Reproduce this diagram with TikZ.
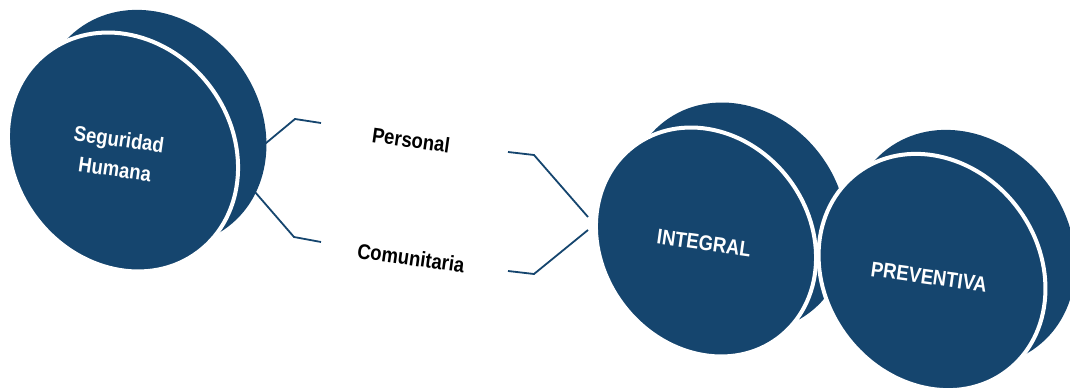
\documentclass[tikz,border=0pt]{standalone}
\usepackage{fontspec}
\setmainfont{Liberation Sans}
\definecolor{discblue}{RGB}{21,69,110}
\begin{document}
\begin{tikzpicture}[x=1pt,y=1pt,
  backdisc/.style={fill=discblue},
  frontdisc/.style={fill=discblue,draw=white,line width=4pt},
  conn/.style={draw=discblue,line width=1.8pt},
  lbl/.style={rotate=-8,align=center,inner sep=0pt,font=\fontsize{18.5}{24}\selectfont\bfseries},
  lblw/.style={lbl,text=white}
]
\useasboundingbox (0,0) rectangle (1070,389);
\clip (0,0) rectangle (1070,389);
% disc 1
\fill[backdisc,rotate around={-53:(153,261)}] (153,261) ellipse [x radius=124, y radius=107];
\filldraw[frontdisc,rotate around={-53:(123,237)}] (123,237) ellipse [x radius=125, y radius=109];
% disc 2
\fill[backdisc,rotate around={-53:(737,172)}] (737,172) ellipse [x radius=120, y radius=104];
\filldraw[frontdisc,rotate around={-53:(706,147)}] (706,147) ellipse [x radius=120, y radius=104];
% disc 3
\fill[backdisc,rotate around={-53:(962,141)}] (962,141) ellipse [x radius=124, y radius=107];
\filldraw[frontdisc,rotate around={-53:(932,117)}] (932,117) ellipse [x radius=124, y radius=107];
% labels
\node[lblw] (seg) at (117,235) {\scalebox{1}[1.15]{Seguridad}\\[6pt]\scalebox{1}[1.15]{Humana}};
\node[lbl] (per) at (411,249) {\scalebox{1}[1.15]{Personal}};
\node[lbl] (com) at (411,131) {\scalebox{1}[1.15]{Comunitaria}};
\node[lblw] (int) at (704,146) {\scalebox{1}[1.15]{INTEGRAL}};
\node[lblw] (pre) at (929,112) {\scalebox{1}[1.15]{PREVENTIVA}};
% connector coordinates
\coordinate (lu0) at (242,226);
\coordinate (lu1) at (295,270);
\coordinate (lu2) at (321,266);
\coordinate (ll0) at (242,212);
\coordinate (ll1) at (294,152);
\coordinate (ll2) at (321,147);
\coordinate (ru0) at (508,237);
\coordinate (ru1) at (534,234);
\coordinate (ru2) at (588,172);
\coordinate (rl0) at (588,159);
\coordinate (rl1) at (534,115);
\coordinate (rl2) at (508,118);
\draw[conn] (lu0) -- (lu1) -- (lu2);
\draw[conn] (ll0) -- (ll1) -- (ll2);
\draw[conn] (ru0) -- (ru1) -- (ru2);
\draw[conn] (rl0) -- (rl1) -- (rl2);
\end{tikzpicture}
\end{document}
